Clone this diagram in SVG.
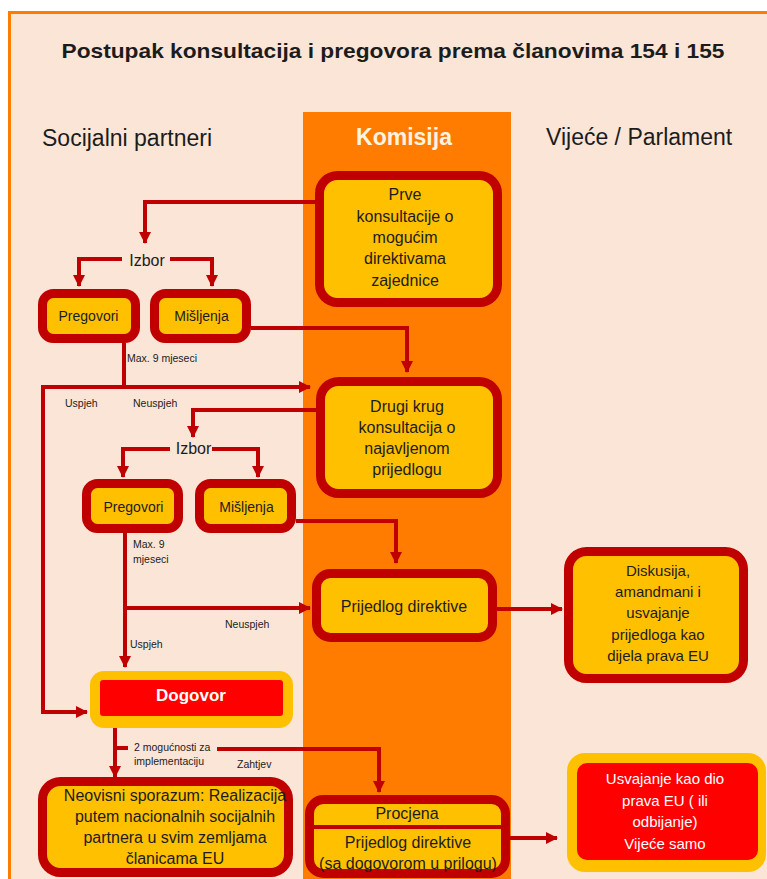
<svg xmlns="http://www.w3.org/2000/svg" width="767" height="879" viewBox="0 0 767 879">
<defs>
<style>
text{font-family:"Liberation Sans",Arial,sans-serif;fill:#1c1c1c}
.box{fill:#ffc000;stroke:#c00000;stroke-width:9}
.t16{font-size:16px;text-anchor:middle}
.t15{font-size:15px;text-anchor:middle}
.t14{font-size:14px;text-anchor:middle}
.lbl{font-size:10.5px}
.con{fill:none;stroke:#c00000;stroke-width:4}
.head{font-size:23px}
.wt{fill:#ffffff}
</style>
<marker id="ah" viewBox="0 0 12 12" refX="11" refY="6" markerWidth="12" markerHeight="12" markerUnits="userSpaceOnUse" orient="auto">
<path d="M0,0 L12,6 L0,12 Z" fill="#c00000"/>
</marker>
</defs>
<rect x="0" y="0" width="767" height="879" fill="#ffffff"/>
<rect x="9.5" y="12.5" width="770" height="880" fill="#fbe5d6" stroke="#ff7c00" stroke-width="3"/>
<rect x="303" y="112" width="208" height="767" fill="#ff7c00"/>
<g id="title">
<text x="393" y="58" font-size="21" font-weight="bold" text-anchor="middle" textLength="663" lengthAdjust="spacingAndGlyphs">Postupak konsultacija i pregovora prema članovima 154 i 155</text>
</g>
<g id="headers">
<text class="head" x="42" y="146">Socijalni partneri</text>
<text class="head wt" x="404" y="145" font-weight="bold" text-anchor="middle" style="fill:#fff4e0">Komisija</text>
<text class="head" x="546" y="145">Vijeće / Parlament</text>
</g>
<g id="connectors">
<path class="con" d="M315,202 H145 V243" marker-end="url(#ah)"/>
<path class="con" d="M122,259 H79 V286" marker-end="url(#ah)"/>
<path class="con" d="M170,259 H212 V286" marker-end="url(#ah)"/>
<path class="con" d="M251,328 H407 V372" marker-end="url(#ah)"/>
<path class="con" d="M124,343 V387"/>
<path class="con" d="M41,387 H310" marker-end="url(#ah)"/>
<path class="con" d="M43,385 V712 H87" marker-end="url(#ah)"/>
<path class="con" d="M316,410 H193 V437" marker-end="url(#ah)"/>
<path class="con" d="M170,449 H123 V477" marker-end="url(#ah)"/>
<path class="con" d="M212,449 H258 V477" marker-end="url(#ah)"/>
<path class="con" d="M296,521 H396 V563" marker-end="url(#ah)"/>
<path class="con" d="M125,533 V667" marker-end="url(#ah)"/>
<path class="con" d="M125,608 H310" marker-end="url(#ah)"/>
<path class="con" d="M497,609 H562" marker-end="url(#ah)"/>
<path class="con" d="M115,728 V777" marker-end="url(#ah)"/>
<path class="con" d="M115,748 H128"/>
<path class="con" d="M217,749 H379 V792" marker-end="url(#ah)"/>
<path class="con" d="M510,838 H557" marker-end="url(#ah)"/>
</g>
<g id="labels">
<text class="lbl" x="127" y="362">Max. 9 mjeseci</text>
<text class="lbl" x="65" y="407">Uspjeh</text>
<text class="lbl" x="133" y="407">Neuspjeh</text>
<text class="lbl" x="133" y="548">Max. 9</text>
<text class="lbl" x="133" y="563">mjeseci</text>
<text class="lbl" x="225" y="628">Neuspjeh</text>
<text class="lbl" x="130" y="648">Uspjeh</text>
<text class="lbl" x="134" y="751">2 mogućnosti za</text>
<text class="lbl" x="134" y="765">implementaciju</text>
<text class="lbl" x="237" y="768">Zahtjev</text>
</g>
<g id="prve">
<rect class="box" x="319.5" y="175.5" width="178" height="127" rx="18"/>
<text class="t16" x="405" y="200">Prve</text>
<text class="t16" x="405" y="222">konsultacije o</text>
<text class="t16" x="405" y="243">mogućim</text>
<text class="t16" x="405" y="264">direktivama</text>
<text class="t16" x="405" y="286">zajednice</text>
</g>
<g id="izbor1"><text class="t16" x="147" y="266">Izbor</text></g>
<g id="pregovori1">
<rect class="box" x="42.5" y="293.5" width="93" height="45" rx="11"/>
<text class="t14" x="88.5" y="321">Pregovori</text>
</g>
<g id="misljenja1">
<rect class="box" x="154.5" y="293.5" width="92" height="45" rx="11"/>
<text class="t14" x="201.5" y="321">Mišljenja</text>
</g>
<g id="drugi">
<rect class="box" x="320.5" y="381.5" width="177" height="112" rx="18"/>
<text class="t16" x="407" y="411.5">Drugi krug</text>
<text class="t16" x="407" y="432.5">konsultacija o</text>
<text class="t16" x="407" y="453.5">najavljenom</text>
<text class="t16" x="407" y="474.5">prijedlogu</text>
</g>
<g id="izbor2"><text class="t16" x="193.5" y="454">Izbor</text></g>
<g id="pregovori2">
<rect class="box" x="86.5" y="483.5" width="92" height="45" rx="11"/>
<text class="t14" x="133.5" y="512">Pregovori</text>
</g>
<g id="misljenja2">
<rect class="box" x="199.5" y="483.5" width="92" height="45" rx="11"/>
<text class="t14" x="246.5" y="512">Mišljenja</text>
</g>
<g id="prijedlog">
<rect class="box" x="316.5" y="573.5" width="176" height="64" rx="14"/>
<text class="t16" x="404" y="611.5">Prijedlog direktive</text>
</g>
<g id="diskusija">
<rect class="box" x="568.5" y="551.5" width="175" height="127" rx="18"/>
<text class="t15" x="658" y="576">Diskusija,</text>
<text class="t15" x="658" y="597">amandmani i</text>
<text class="t15" x="658" y="618">usvajanje</text>
<text class="t15" x="658" y="640">prijedloga kao</text>
<text class="t15" x="658" y="661">dijela prava EU</text>
</g>
<g id="dogovor">
<rect x="90" y="671" width="203" height="57" rx="14" fill="#ffc000"/>
<rect x="100" y="680" width="183" height="36" rx="3" fill="#ff0000"/>
<text class="wt" x="191" y="701" font-size="17" font-weight="bold" text-anchor="middle">Dogovor</text>
</g>
<g id="neovisni">
<rect class="box" x="42.5" y="781.5" width="246" height="91" rx="18"/>
<text class="t16" x="175" y="801">Neovisni sporazum: Realizacija</text>
<text class="t16" x="175" y="822">putem nacionalnih socijalnih</text>
<text class="t16" x="175" y="843">partnera u svim zemljama</text>
<text class="t16" x="175" y="864">članicama EU</text>
</g>
<g id="procjena">
<rect class="box" x="309.5" y="799.5" width="196" height="74" rx="14"/>
<line x1="314" y1="827" x2="501" y2="827" stroke="#c00000" stroke-width="4"/>
<text class="t16" x="407" y="818.5">Procjena</text>
<text class="t16" x="408" y="847.5">Prijedlog direktive</text>
<text class="t16" x="408" y="868.5">(sa dogovorom u prilogu)</text>
</g>
<g id="usvajanje">
<rect x="567" y="753" width="199" height="119" rx="18" fill="#ffc000"/>
<rect x="577" y="763" width="181" height="97" rx="10" fill="#ff0000"/>
<text class="t15 wt" x="665" y="784">Usvajanje kao dio</text>
<text class="t15 wt" x="665" y="806">prava EU ( ili</text>
<text class="t15 wt" x="665" y="827">odbijanje)</text>
<text class="t15 wt" x="665" y="849">Vijeće samo</text>
</g>
</svg>
